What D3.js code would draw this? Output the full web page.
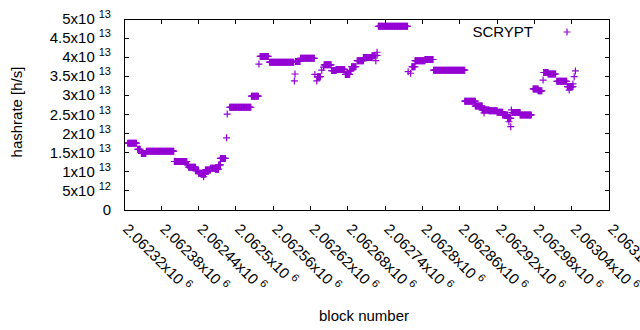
<!DOCTYPE html>
<html lang="en">
<head>
<meta charset="UTF-8">
<title>SCRYPT hashrate</title>
<script src="https://cdn.jsdelivr.net/npm/d3@7/dist/d3.min.js"></script>
<style>
  body { margin: 0; background: #fff; }
  svg text { font-family: "Liberation Sans", Arial, sans-serif; fill: #000; }
</style>
</head>
<body>
<div id="chart"></div>
<script>
// hashrate is in units of 1e12 h/s, blocks are absolute block numbers

// runs of blocks that share the same estimate: [first block, last block, hashrate]
var runs = [
  [2062326, 2062340, 17.5],
  [2062342, 2062346, 15.9],
  [2062348, 2062355, 14.8],
  [2062356, 2062400, 15.4],
  [2062401, 2062421, 12.7],
  [2062422, 2062424, 11.8],
  [2062424, 2062435, 11.2],
  [2062435, 2062440, 10.3],
  [2062440, 2062444, 9.6],
  [2062444, 2062451, 9.4],
  [2062451, 2062459, 10.5],
  [2062459, 2062467, 10.9],
  [2062467, 2062472, 10.7],
  [2062472, 2062475, 11.8],
  [2062475, 2062483, 13.5],
  [2062490, 2062524, 26.9],
  [2062525, 2062536, 29.8],
  [2062539, 2062552, 40.2],
  [2062554, 2062593, 38.7],
  [2062596, 2062603, 38.9],
  [2062604, 2062626, 39.7],
  [2062631, 2062636, 34.9],
  [2062642, 2062653, 38.0],
  [2062654, 2062661, 36.5],
  [2062661, 2062675, 36.8],
  [2062676, 2062683, 35.5],
  [2062683, 2062685, 36.4],
  [2062686, 2062693, 37.5],
  [2062695, 2062705, 39.1],
  [2062705, 2062719, 39.9],
  [2062719, 2062724, 40.4],
  [2062729, 2062776, 48.1],
  [2062783, 2062788, 37.5],
  [2062788, 2062804, 39.1],
  [2062804, 2062817, 39.4],
  [2062818, 2062868, 36.6],
  [2062868, 2062885, 28.5],
  [2062885, 2062896, 27.2],
  [2062896, 2062907, 26.2],
  [2062907, 2062920, 26.0],
  [2062920, 2062929, 25.6],
  [2062929, 2062937, 24.9],
  [2062937, 2062942, 24.0],
  [2062944, 2062957, 25.5],
  [2062957, 2062975, 24.9],
  [2062978, 2062986, 31.7],
  [2062986, 2062992, 31.2],
  [2062995, 2063002, 36.0],
  [2063002, 2063014, 35.6],
  [2063016, 2063032, 33.7],
  [2063033, 2063042, 32.3]
];

// odd blocks standing on their own: [block, hashrate]
var singles = [
  [2062448, 8.7],
  [2062485, 18.9],
  [2062486, 25.1],
  [2062537, 38.2],
  [2062594, 33.8],
  [2062595, 35.6],
  [2062627, 35.5],
  [2062630, 33.8],
  [2062638, 36.6],
  [2062641, 37.4],
  [2062725, 39.1],
  [2062727, 41.3],
  [2062727, 40.5],
  [2062777, 36.2],
  [2062781, 35.8],
  [2062899, 25.4],
  [2062939, 23.1],
  [2062942, 21.8],
  [2062943, 26.2],
  [2062994, 34.0],
  [2063036, 31.4],
  [2063042, 33.0],
  [2063044, 34.9],
  [2063046, 36.4]
];

var yTicks = [0, 5, 10, 15, 20, 25, 30, 35, 40, 45, 50];
var xTicks = [2062320, 2062380, 2062440, 2062500, 2062560, 2062620, 2062680,
              2062740, 2062800, 2062860, 2062920, 2062980, 2063040, 2063100];

var W = 640, H = 330;
var m = { left: 124, right: 609, top: 19, bottom: 210 };
var color = '#9400d3';

// one point per block
var points = [];
runs.forEach(function(r) {
  for (var b = r[0]; b <= r[1]; b++) points.push([b, r[2]]);
});
singles.forEach(function(s) { points.push(s); });

var svg = d3.select('#chart').append('svg')
  .attr('width', W).attr('height', H);

var x = d3.scaleLinear().domain([2062320, 2063100]).range([m.left, m.right]);
var y = d3.scaleLinear().domain([0, 50]).range([m.bottom, m.top]);

var tl = 4.5;

// ticks, mirrored on all four sides like gnuplot
var tickG = svg.append('g').attr('stroke', '#000').attr('stroke-width', 1)
  .attr('shape-rendering', 'crispEdges');
yTicks.forEach(function(v) {
  tickG.append('line').attr('x1', m.left).attr('x2', m.left + tl).attr('y1', y(v)).attr('y2', y(v));
  tickG.append('line').attr('x1', m.right).attr('x2', m.right - tl).attr('y1', y(v)).attr('y2', y(v));
});
xTicks.forEach(function(v) {
  tickG.append('line').attr('x1', x(v)).attr('x2', x(v)).attr('y1', m.bottom).attr('y2', m.bottom - tl);
  tickG.append('line').attr('x1', x(v)).attr('x2', x(v)).attr('y1', m.top).attr('y2', m.top + tl);
});

// y labels, "5x10^13" style
yTicks.forEach(function(v) {
  var t = svg.append('text').attr('x', 111).attr('y', y(v) + 5)
    .attr('text-anchor', 'end').style('font-size', '15px');
  if (v === 0) { t.text('0'); return; }
  var val = v * 1e12;
  var e = Math.floor(Math.log10(val));
  var mant = +(val / Math.pow(10, e)).toPrecision(3);
  t.append('tspan').text(mant + 'x10');
  t.append('tspan').attr('dx', 4).attr('dy', -6).style('font-size', '11px').text(e);
});

// x labels, turned 45 degrees
xTicks.forEach(function(v) {
  var t = svg.append('text')
    .attr('transform', 'translate(' + (x(v) - 2) + ',' + (m.bottom + 20) + ') rotate(45)')
    .style('font-size', '15px');
  t.append('tspan').text(+(v / 1e6).toPrecision(7) + 'x10');
  t.append('tspan').attr('dx', 4).attr('dy', -6).style('font-size', '11px').text('6');
});

// the data
svg.append('g').attr('stroke', color).attr('stroke-width', 1.2).attr('fill', 'none')
  .selectAll('path').data(points).enter().append('path')
  .attr('d', function(d) {
    var px = x(d[0]), py = y(d[1]);
    return 'M' + (px - 3.5) + ',' + py + 'h7M' + px + ',' + (py - 3.5) + 'v7';
  });

// border
svg.append('rect').attr('x', m.left).attr('y', m.top)
  .attr('width', m.right - m.left).attr('height', m.bottom - m.top)
  .attr('fill', 'none').attr('stroke', '#000').attr('shape-rendering', 'crispEdges');

// legend
svg.append('text').attr('x', 533).attr('y', 37).attr('text-anchor', 'end')
  .style('font-size', '15px').text('SCRYPT');
svg.append('path').attr('stroke', color).attr('stroke-width', 1.2)
  .attr('d', 'M563.5,32h7M567,28.5v7');

// axis titles
svg.append('text').attr('transform', 'translate(22,112) rotate(-90)')
  .attr('text-anchor', 'middle').style('font-size', '15px').text('hashrate [h/s]');
svg.append('text').attr('x', 364).attr('y', 321).attr('text-anchor', 'middle')
  .style('font-size', '15px').text('block number');
</script>
</body>
</html>
